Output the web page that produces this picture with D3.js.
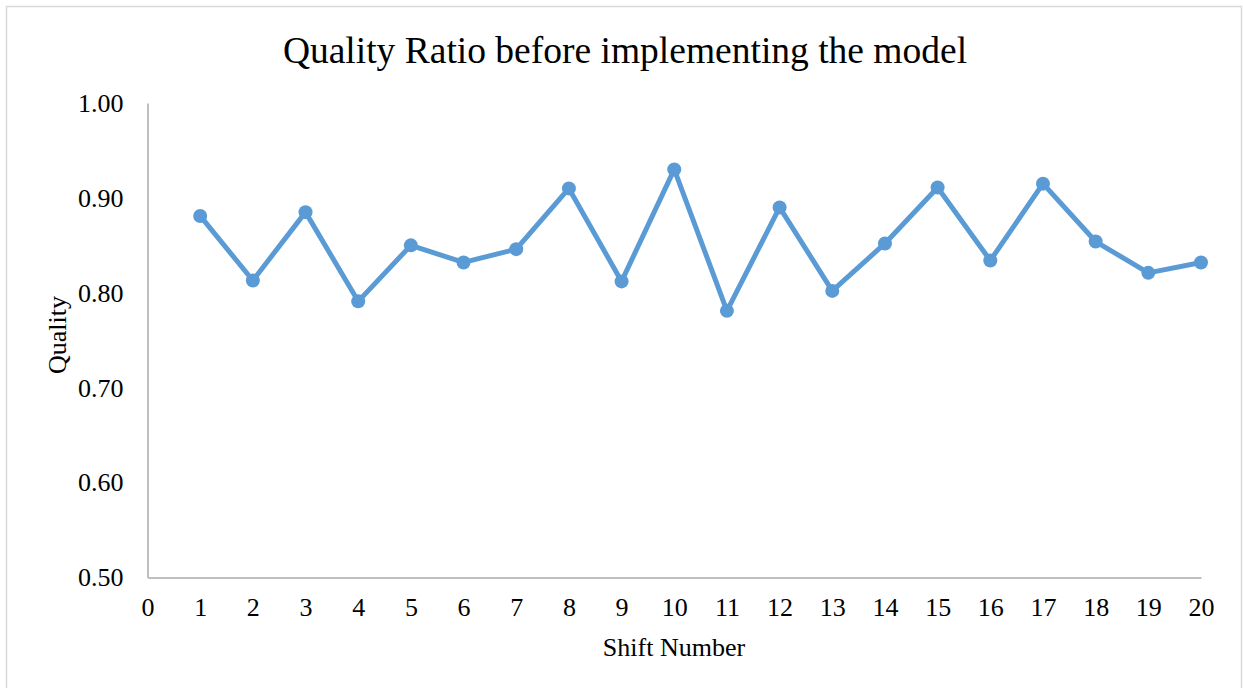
<!DOCTYPE html>
<html>
<head>
  <meta charset="utf-8">
  <style>
    body { margin: 0; background: #fff; }
    svg { display: block; font-family: "Liberation Serif", "Times New Roman", serif; }
  </style>
</head>
<body>
  <div id="chart"></div>
  <script src="https://d3js.org/d3.v7.min.js"></script>
  <script>
    var shifts = d3.range(1, 21);
    var quality = [0.881, 0.813, 0.885, 0.791, 0.850, 0.832, 0.846, 0.910, 0.812, 0.930,
                   0.781, 0.890, 0.802, 0.852, 0.911, 0.834, 0.915, 0.854, 0.821, 0.832];
    var xTicks = d3.range(0, 21);
    var yTicks = [0.5, 0.6, 0.7, 0.8, 0.9, 1.0];

    var width = 1243, height = 688;

    var svg = d3.select('#chart').append('svg')
      .attr('width', width)
      .attr('height', height);

    svg.append('rect')
      .attr('x', 6.5).attr('y', 6.5)
      .attr('width', 1235).attr('height', 690)
      .attr('fill', '#fff')
      .attr('stroke', '#d9d9d9')
      .attr('stroke-width', 1.5);

    var x = d3.scaleLinear().domain([0, 20]).range([147.5, 1201]);
    var y = d3.scaleLinear().domain([0.5, 1.0]).range([577.5, 103]);

    // axes
    var xAxis = svg.append('g')
      .attr('transform', 'translate(0,' + y(0.5) + ')')
      .call(d3.axisBottom(x).tickValues(xTicks).tickSize(0).tickPadding(20).tickFormat(d3.format('d')));
    var yAxis = svg.append('g')
      .attr('transform', 'translate(' + x(0) + ',0)')
      .call(d3.axisLeft(y).tickValues(yTicks).tickSize(0).tickPadding(24).tickFormat(d3.format('.2f')));

    [xAxis, yAxis].forEach(function(a) {
      a.attr('font-size', 26).attr('font-family', '"Liberation Serif", "Times New Roman", serif');
      a.select('.domain').attr('stroke', '#bfbfbf').attr('stroke-width', 2);
      a.selectAll('text').attr('fill', '#000');
    });

    // line
    var line = d3.line()
      .x(function(d, i) { return x(shifts[i]); })
      .y(function(d) { return y(d); });

    svg.append('path')
      .datum(quality)
      .attr('d', line)
      .attr('fill', 'none')
      .attr('stroke', '#5b9bd5')
      .attr('stroke-width', 5)
      .attr('stroke-linejoin', 'round');

    svg.selectAll('.dot')
      .data(quality)
      .enter().append('circle')
        .attr('class', 'dot')
        .attr('cx', function(d, i) { return x(shifts[i]); })
        .attr('cy', function(d) { return y(d); })
        .attr('r', 7)
        .attr('fill', '#5b9bd5');

    // titles
    svg.append('text')
      .attr('x', 625).attr('y', 63)
      .attr('text-anchor', 'middle')
      .attr('font-size', 37.5)
      .text('Quality Ratio before implementing the model');

    svg.append('text')
      .attr('x', 674).attr('y', 656)
      .attr('text-anchor', 'middle')
      .attr('font-size', 26)
      .text('Shift Number');

    svg.append('text')
      .attr('transform', 'translate(66,335) rotate(-90)')
      .attr('text-anchor', 'middle')
      .attr('font-size', 26)
      .text('Quality');
  </script>
</body>
</html>
